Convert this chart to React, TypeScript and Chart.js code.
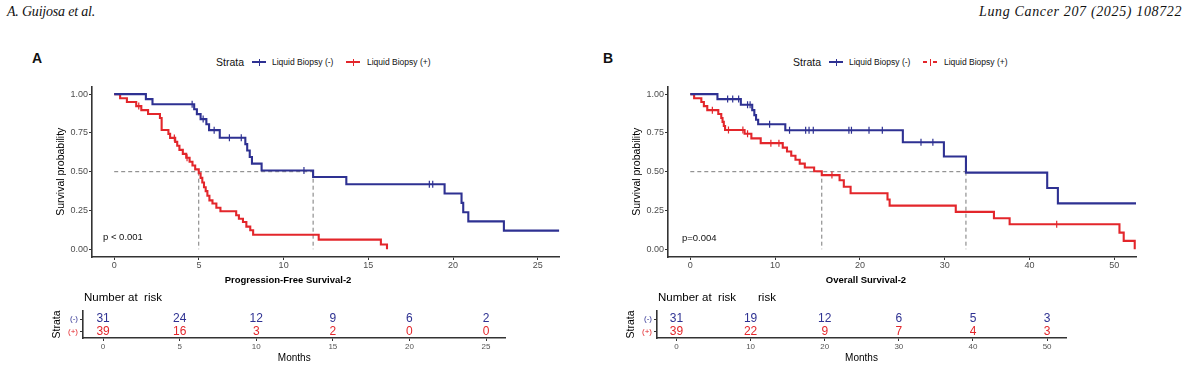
import React, { useEffect, useRef } from "react";
import { Chart, registerables } from "chart.js";
Chart.register(...registerables);

const FONT = "'Liberation Sans', Arial, Helvetica, sans-serif";
const BLUE = "#2E3192";
const RED = "#E3262B";
const TICK_TXT = "#4D4D4D";
const AXIS = "#333333";
const MEDIAN = "#7A7A7A";

// ---------------- Panel A: Progression-Free Survival-2 ----------------
const pfsNegTimes = [0, 1.87, 2.26, 4.72, 4.88, 5.1, 5.44, 5.6, 6.23, 7.74, 7.85, 8.0, 8.13, 8.7, 11.74, 13.7, 19.5, 20.5, 20.6, 20.9, 23.0, 26.27];
const pfsNegSurv = [1, 0.968, 0.935, 0.903, 0.871, 0.839, 0.806, 0.768, 0.719, 0.678, 0.637, 0.595, 0.552, 0.508, 0.466, 0.419, 0.359, 0.299, 0.239, 0.18, 0.12, 0.12];
const pfsNegCensor = [4.6, 5.25, 5.9, 6.8, 7.5, 11.2, 18.6, 18.8];

const pfsPosTimes = [0, 0.35, 0.75, 1.3, 1.6, 2.0, 2.7, 2.8, 3.2, 3.3, 3.6, 3.72, 3.85, 4.05, 4.25, 4.45, 4.62, 4.78, 4.99, 5.1, 5.2, 5.3, 5.4, 5.5, 5.62, 5.8, 6.03, 6.27, 7.2, 7.36, 7.6, 7.8, 8.03, 8.2, 12.07, 15.74, 16.1];
const pfsPosSurv = [1, 0.974, 0.949, 0.923, 0.897, 0.872, 0.846, 0.769, 0.744, 0.718, 0.692, 0.667, 0.641, 0.615, 0.59, 0.564, 0.54, 0.515, 0.49, 0.46, 0.43, 0.4, 0.375, 0.345, 0.315, 0.295, 0.268, 0.245, 0.219, 0.197, 0.176, 0.146, 0.122, 0.093, 0.062, 0.031, 0];
const pfsPosCensor = [1.45, 3.55, 4.3];

const pfsXTicks = [0, 5, 10, 15, 20, 25];
const pfsRiskNeg = [31, 24, 12, 9, 6, 2];
const pfsRiskPos = [39, 16, 3, 2, 0, 0];

// ---------------- Panel B: Overall Survival-2 ----------------
const osNegTimes = [0, 3.2, 5.96, 7.3, 7.55, 7.75, 8.0, 11.2, 25.06, 29.9, 32.5, 42.08, 43.34, 52.55];
const osNegSurv = [1, 0.968, 0.932, 0.897, 0.865, 0.835, 0.806, 0.767, 0.69, 0.598, 0.494, 0.395, 0.296, 0.296];
const osNegCensor = [4.4, 5.0, 5.7, 6.75, 7.05, 9.35, 11.7, 13.6, 14.0, 14.5, 18.7, 19.0, 21.07, 22.64, 27.2, 28.6];

const osPosTimes = [0, 0.45, 1.3, 1.6, 2.0, 3.3, 3.65, 3.8, 3.95, 4.1, 6.4, 7.2, 8.3, 10.9, 11.4, 11.9, 12.4, 12.9, 13.5, 14.6, 15.5, 17.6, 18.1, 18.9, 23.25, 23.5, 31.3, 35.8, 37.65, 50.6, 51.1, 52.4];
const osPosSurv = [1, 0.974, 0.949, 0.923, 0.897, 0.872, 0.846, 0.821, 0.795, 0.769, 0.745, 0.715, 0.684, 0.655, 0.63, 0.603, 0.577, 0.552, 0.527, 0.503, 0.478, 0.445, 0.403, 0.361, 0.321, 0.281, 0.241, 0.2, 0.161, 0.107, 0.054, 0];
const osPosCensor = [2.6, 4.5, 6.2, 6.75, 9.5, 10.45, 16.7, 43.2];

const osXTicks = [0, 10, 20, 30, 40, 50];
const osRiskNeg = [31, 19, 12, 6, 5, 3];
const osRiskPos = [39, 22, 9, 7, 4, 3];

const survTicks = [0, 0.25, 0.5, 0.75, 1];
const strataRows = [1.4, 0.45]; // (-) row, (+) row on the risk-table y scale

// ---------------- helpers ----------------
function survAt(times: number[], surv: number[], t: number): number {
  let v = surv[0];
  for (let i = 0; i < times.length; i++) {
    if (times[i] <= t) v = surv[i];
    else break;
  }
  return v;
}
function medianTime(times: number[], surv: number[]): number {
  for (let i = 0; i < times.length; i++) if (surv[i] <= 0.5) return times[i];
  return times[times.length - 1];
}

const axisCommon = {
  grid: { display: true, drawOnChartArea: false, drawTicks: true, tickLength: 3, color: AXIS, tickColor: AXIS, lineWidth: 1 },
  border: { display: true, color: AXIS, width: 1.6 },
};

type KMProps = {
  left: number; top: number; width: number; height: number; padRight: number;
  xMin: number; xMax: number; xTicks: number[];
  negT: number[]; negS: number[]; negC: number[];
  posT: number[]; posS: number[]; posC: number[];
};

function KMPanel(p: KMProps) {
  const ref = useRef<HTMLCanvasElement | null>(null);
  useEffect(() => {
    const mNeg = medianTime(p.negT, p.negS);
    const mPos = medianTime(p.posT, p.posS);
    const mMax = Math.max(mNeg, mPos);
    const pts = (ts: number[], ss: number[]) => ts.map((t, i) => ({ x: t, y: ss[i] }));
    const cens = (cs: number[], ts: number[], ss: number[]) => cs.map((t) => ({ x: t, y: survAt(ts, ss, t) }));
    const curve = (data: any[], color: string) => ({
      data, borderColor: color, backgroundColor: color, borderWidth: 2.1, stepped: "before",
      pointRadius: 0, pointHoverRadius: 0, fill: false,
    });
    const marks = (data: any[], color: string) => ({
      data, showLine: false, pointStyle: "line", rotation: 90, pointRadius: 3.5, pointHoverRadius: 3.5,
      pointBorderWidth: 1.2, pointBorderColor: color, borderColor: color, backgroundColor: color,
    });
    const dash = (data: any[]) => ({
      data, borderColor: MEDIAN, borderWidth: 1, borderDash: [4, 3], pointRadius: 0, pointHoverRadius: 0, fill: false,
    });
    const chart = new Chart(ref.current as HTMLCanvasElement, {
      type: "line",
      data: {
        datasets: [
          curve(pts(p.negT, p.negS), BLUE),
          curve(pts(p.posT, p.posS), RED),
          marks(cens(p.negC, p.negT, p.negS), BLUE),
          marks(cens(p.posC, p.posT, p.posS), RED),
          dash([{ x: 0, y: 0.5 }, { x: mMax, y: 0.5 }]),
          dash([{ x: mNeg, y: 0.5 }, { x: mNeg, y: 0 }]),
          dash([{ x: mPos, y: 0.5 }, { x: mPos, y: 0 }]),
        ] as any,
      },
      options: {
        responsive: false,
        animation: false,
        devicePixelRatio: 1,
        events: [],
        layout: { padding: { top: 6, right: p.padRight, left: 0, bottom: 0 } },
        plugins: { legend: { display: false }, tooltip: { enabled: false }, title: { display: false } },
        scales: {
          x: {
            type: "linear", min: p.xMin, max: p.xMax,
            afterBuildTicks: (s: any) => { s.ticks = p.xTicks.map((v) => ({ value: v })); },
            afterFit: (s: any) => { s.height = 16; },
            ticks: { font: { family: FONT, size: 9 }, color: TICK_TXT, padding: 0, maxRotation: 0, autoSkip: false },
            ...axisCommon,
          },
          y: {
            type: "linear", min: -0.05, max: 1.05,
            afterBuildTicks: (s: any) => { s.ticks = survTicks.map((v) => ({ value: v })); },
            afterFit: (s: any) => { s.width = 42; },
            ticks: { font: { family: FONT, size: 9 }, color: TICK_TXT, padding: 1, callback: (v: any) => Number(v).toFixed(2) },
            title: { display: true, text: "Survival probability", color: "#000", font: { family: FONT, size: 10.5 }, padding: { top: 5, bottom: 0 } },
            ...axisCommon,
          },
        },
      } as any,
    });
    return () => chart.destroy();
  }, []);
  return (
    <canvas ref={ref} width={p.width} height={p.height}
      style={{ position: "absolute", left: p.left, top: p.top, width: p.width, height: p.height }} />
  );
}

type RiskProps = {
  left: number; top: number; width: number; height: number; padRight: number;
  xMin: number; xMax: number; xTicks: number[]; neg: number[]; pos: number[];
  title: string; titleDx: number; extraRisk: boolean;
};

function RiskTable(p: RiskProps) {
  const ref = useRef<HTMLCanvasElement | null>(null);
  useEffect(() => {
    const textPlugin = {
      id: "riskText",
      afterDatasetsDraw(chart: any) {
        const { ctx, chartArea } = chart;
        ctx.save();
        chart.data.datasets.forEach((ds: any, di: number) => {
          const meta = chart.getDatasetMeta(di);
          ctx.fillStyle = ds.textColor;
          ctx.font = `12px ${FONT}`;
          ctx.textAlign = "center";
          ctx.textBaseline = "middle";
          meta.data.forEach((el: any, i: number) => ctx.fillText(String(ds.counts[i]), el.x, el.y));
        });
        ctx.fillStyle = "#000";
        ctx.textAlign = "left";
        ctx.textBaseline = "middle";
        ctx.font = `11.5px ${FONT}`;
        ctx.fillText("Number at  risk", chartArea.left + 1, chartArea.top - 13);
        if (p.extraRisk) ctx.fillText("risk", chartArea.left + 101, chartArea.top - 13);
        ctx.font = `bold 9.5px ${FONT}`;
        ctx.textAlign = "center";
        ctx.fillText(p.title, (chartArea.left + chartArea.right) / 2 + p.titleDx, chartArea.top - 31);
        ctx.restore();
      },
    };
    const chart = new Chart(ref.current as HTMLCanvasElement, {
      type: "line",
      data: {
        datasets: [
          { data: p.xTicks.map((t) => ({ x: t, y: strataRows[0] })), counts: p.neg, textColor: BLUE, showLine: false, pointRadius: 0, pointHoverRadius: 0 },
          { data: p.xTicks.map((t) => ({ x: t, y: strataRows[1] })), counts: p.pos, textColor: RED, showLine: false, pointRadius: 0, pointHoverRadius: 0 },
        ] as any,
      },
      options: {
        responsive: false,
        animation: false,
        devicePixelRatio: 1,
        events: [],
        layout: { padding: { top: 43, right: p.padRight, left: 0, bottom: 0 } },
        plugins: { legend: { display: false }, tooltip: { enabled: false }, title: { display: false } },
        scales: {
          x: {
            type: "linear", min: p.xMin, max: p.xMax,
            afterBuildTicks: (s: any) => { s.ticks = p.xTicks.map((v) => ({ value: v })); },
            afterFit: (s: any) => { s.height = 28; },
            ticks: { font: { family: FONT, size: 8 }, color: "#555", padding: 1, maxRotation: 0, autoSkip: false },
            title: { display: true, text: "Months", color: "#000", font: { family: FONT, size: 10 }, padding: { top: 0, bottom: 2 } },
            ...axisCommon,
          },
          y: {
            type: "linear", min: 0, max: 2,
            afterBuildTicks: (s: any) => { s.ticks = [strataRows[1], strataRows[0]].map((v) => ({ value: v })); },
            afterFit: (s: any) => { s.width = 39; },
            ticks: {
              font: { family: FONT, size: 8 }, padding: 2,
              color: (c: any) => (c.tick && c.tick.value > 1 ? BLUE : RED),
              callback: (v: any) => (Number(v) > 1 ? "(-)" : "(+)"),
            },
            title: { display: true, text: "Strata", color: "#000", font: { family: FONT, size: 10.5 }, padding: { top: 6.7, bottom: 0 } },
            ...axisCommon,
          },
        },
      } as any,
      plugins: [textPlugin],
    });
    return () => chart.destroy();
  }, []);
  return (
    <canvas ref={ref} width={p.width} height={p.height}
      style={{ position: "absolute", left: p.left, top: p.top, width: p.width, height: p.height }} />
  );
}

function Legend({ x, dashed }: { x: number; dashed: boolean }) {
  const txt: React.CSSProperties = { position: "absolute", fontFamily: FONT, color: "#111", whiteSpace: "nowrap" };
  const marker = (left: number, color: string, isDashed: boolean) => (
    <>
      {isDashed ? (
        <>
          <div style={{ position: "absolute", left, top: 61, width: 4, height: 2, background: color }} />
          <div style={{ position: "absolute", left: left + 10, top: 61, width: 4, height: 2, background: color }} />
        </>
      ) : (
        <div style={{ position: "absolute", left, top: 61, width: 14, height: 2, background: color }} />
      )}
      <div style={{ position: "absolute", left: left + 6.5, top: 58.5, width: 1.2, height: 7, background: color }} />
    </>
  );
  return (
    <>
      <div style={{ ...txt, left: x, top: 56.9, fontSize: 10.5, lineHeight: "11px" }}>Strata</div>
      {marker(x + 36, BLUE, false)}
      <div style={{ ...txt, left: x + 56, top: 57.9, fontSize: 8.5, lineHeight: "9px" }}>Liquid Biopsy (-)</div>
      {marker(x + 130, RED, dashed)}
      <div style={{ ...txt, left: x + 151, top: 57.9, fontSize: 8.5, lineHeight: "9px" }}>Liquid Biopsy (+)</div>
    </>
  );
}

export default function App() {
  const serif: React.CSSProperties = {
    position: "absolute", top: 5.2, fontFamily: "'Liberation Serif', 'Times New Roman', serif",
    fontStyle: "italic", fontSize: 14, lineHeight: "14px", color: "#111", whiteSpace: "nowrap",
  };
  const letter: React.CSSProperties = {
    position: "absolute", top: 51, fontFamily: FONT, fontWeight: "bold", fontSize: 14, lineHeight: "14px", color: "#111",
  };
  const pval: React.CSSProperties = {
    position: "absolute", fontFamily: FONT, fontSize: 9.5, lineHeight: "10px", color: "#111", whiteSpace: "nowrap",
  };
  return (
    <div style={{ position: "absolute", left: 0, top: 0, width: 1200, height: 381, background: "#fff", overflow: "hidden" }}>
      <div style={{ ...serif, left: 7, letterSpacing: "-0.2px" }}>A. Guijosa et al.</div>
      <div style={{ ...serif, left: 979, letterSpacing: "0.65px" }}>Lung Cancer 207 (2025) 108722</div>

      <div style={{ ...letter, left: 32 }}>A</div>
      <div style={{ ...letter, left: 603 }}>B</div>

      <Legend x={216} dashed={false} />
      <Legend x={793} dashed={true} />

      <KMPanel left={50} top={80} width={520} height={193} padRight={10.7}
        xMin={-1.31} xMax={26.27} xTicks={pfsXTicks}
        negT={pfsNegTimes} negS={pfsNegSurv} negC={pfsNegCensor}
        posT={pfsPosTimes} posS={pfsPosSurv} posC={pfsPosCensor} />
      <KMPanel left={626} top={80} width={520} height={193} padRight={10}
        xMin={-2.63} xMax={52.55} xTicks={osXTicks}
        negT={osNegTimes} negS={osNegSurv} negC={osNegCensor}
        posT={osPosTimes} posS={osPosSurv} posC={osPosCensor} />

      <div style={{ ...pval, left: 103, top: 232.1 }}>p &lt; 0.001</div>
      <div style={{ ...pval, left: 682, top: 233.1 }}>p=0.004</div>

      <RiskTable left={44} top={268} width={480} height={98} padRight={18.5}
        xMin={-1.31} xMax={26.27} xTicks={pfsXTicks} neg={pfsRiskNeg} pos={pfsRiskPos}
        title="Progression-Free Survival-2" titleDx={-6.25} extraRisk={false} />
      <RiskTable left={618} top={268} width={470} height={98} padRight={22}
        xMin={-2.63} xMax={52.55} xTicks={osXTicks} neg={osRiskNeg} pos={osRiskPos}
        title="Overall Survival-2" titleDx={4.5} extraRisk={true} />
    </div>
  );
}
